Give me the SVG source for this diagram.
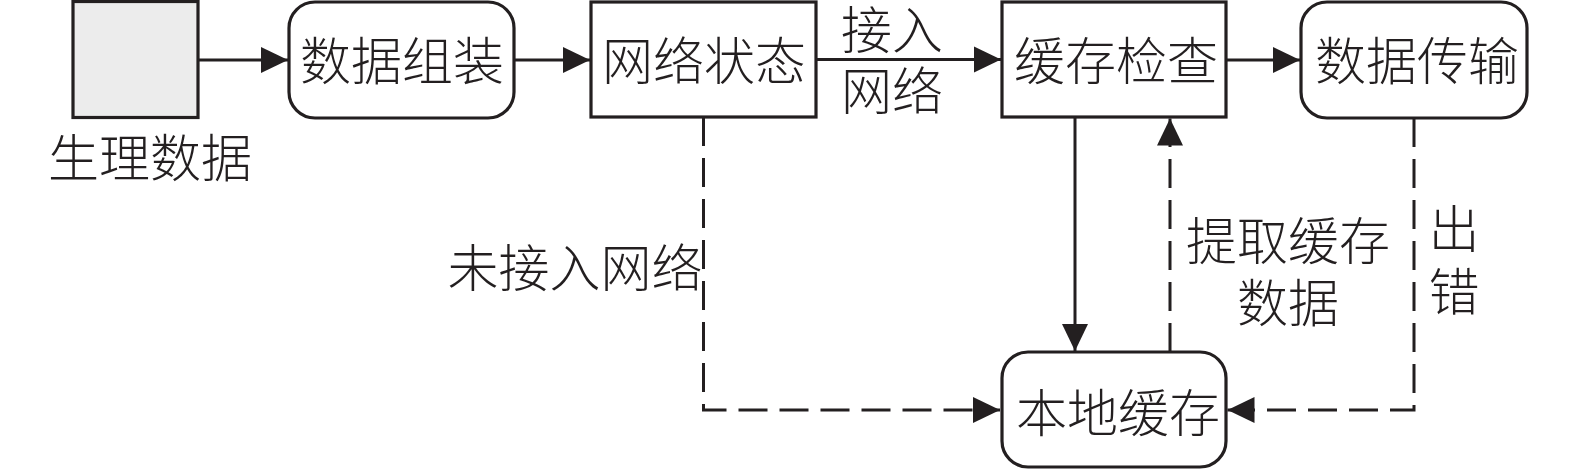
<svg xmlns="http://www.w3.org/2000/svg" width="1575" height="470" viewBox="0 0 1575 470">
<defs>
<style>
.box{fill:#fff;stroke:#231f20;stroke-width:3.2}
.gray{fill:#ececec;stroke:#231f20;stroke-width:3.2}
.t{font-family:"Noto Sans CJK SC","Noto Sans CJK JP",sans-serif;font-size:51px;font-weight:300;fill:#231f20;text-anchor:middle;dominant-baseline:central}
.ln{fill:none;stroke:#231f20;stroke-width:3}
.dash{stroke-dasharray:29 12}
</style>
<marker id="ah" markerUnits="userSpaceOnUse" markerWidth="28" markerHeight="28" viewBox="0 0 28 28" refX="27" refY="14" orient="auto">
<path d="M0,1 L27,14 L0,27 Z" fill="#231f20"/>
</marker>
</defs>
<g id="n-physio">
<rect class="gray" x="73" y="1.5" width="125" height="116"/>
<text class="t" x="150" y="155">生理数据</text>
</g>
<g id="n-assemble">
<rect class="box" x="289" y="2" width="225" height="116" rx="26" ry="26"/>
<text class="t" x="402" y="58">数据组装</text>
</g>
<g id="n-netstate">
<rect class="box" x="591" y="2" width="225" height="115"/>
<text class="t" x="704" y="58">网络状态</text>
</g>
<g id="n-cachecheck">
<rect class="box" x="1002" y="2" width="224" height="115"/>
<text class="t" x="1116" y="58">缓存检查</text>
</g>
<g id="n-transfer">
<rect class="box" x="1301" y="2" width="226" height="116" rx="26" ry="26"/>
<text class="t" x="1417" y="58">数据传输</text>
</g>
<g id="n-localcache">
<rect class="box" x="1002" y="352" width="224" height="115" rx="26" ry="26"/>
<text class="t" x="1118" y="410">本地缓存</text>
</g>
<g id="connectors">
<line class="ln" x1="198" y1="60" x2="288" y2="60" marker-end="url(#ah)"/>
<line class="ln" x1="514" y1="60" x2="590" y2="60" marker-end="url(#ah)"/>
<line class="ln" x1="816" y1="59.5" x2="1001" y2="59.5" marker-end="url(#ah)"/>
<line class="ln" x1="1226" y1="60" x2="1300" y2="60" marker-end="url(#ah)"/>
<line class="ln" x1="1075" y1="117" x2="1075" y2="351" marker-end="url(#ah)"/>
<line class="ln dash" x1="1170" y1="352" x2="1170" y2="118.5" marker-end="url(#ah)"/>
<path class="ln dash" d="M703.5,117 V410 H1000" marker-end="url(#ah)"/>
<path class="ln dash" d="M1414,118 V410 H1227.5" marker-end="url(#ah)"/>
<text class="t" x="892" y="27">接入</text>
<text class="t" x="892" y="88">网络</text>
<text class="t" x="575" y="265">未接入网络</text>
<text class="t" x="1288" y="238">提取缓存</text>
<text class="t" x="1288" y="300">数据</text>
<text class="t" x="1454" y="226">出</text>
<text class="t" x="1454" y="289">错</text>
</g>
</svg>
